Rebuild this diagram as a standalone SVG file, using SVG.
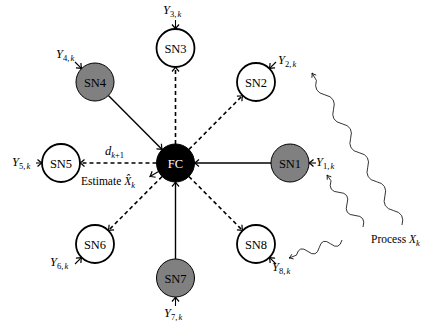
<svg xmlns="http://www.w3.org/2000/svg" width="433" height="327" viewBox="0 0 433 327">
<style>
.sn{stroke:#000;stroke-width:1.8;fill:#fff}
.sg{stroke:#000;stroke-width:1;fill:#808080}
.lb{font-family:"Liberation Serif","DejaVu Serif",serif;font-size:12.5px;text-anchor:middle;fill:#000}
.tx{font-family:"Liberation Serif","DejaVu Serif",serif;font-size:11.5px;fill:#000}
.ym{font-family:"Liberation Serif","DejaVu Serif",serif;font-size:12.5px;fill:#000}
.it{font-style:italic}
.sub{font-size:8.5px}
.solid{stroke:#000;stroke-width:1.4;fill:none;marker-end:url(#ah)}
.dash{stroke:#000;stroke-width:1.6;fill:none;stroke-dasharray:4 3;marker-end:url(#ah)}
.yin{stroke:#000;stroke-width:1.1;fill:none;marker-end:url(#ah)}
.wave{stroke:#000;stroke-width:0.8;fill:none;marker-end:url(#wh)}
</style>
<defs>
<marker id="ah" viewBox="-6 -5 7 10" markerWidth="7" markerHeight="10" refX="0" refY="0" orient="auto" markerUnits="userSpaceOnUse">
<path d="M-4.5,-3.5 Q-1.5,-0.8 0,0 Q-1.5,0.8 -4.5,3.5" fill="none" stroke="#000" stroke-width="1.2"/>
</marker>
<marker id="wh" viewBox="-6 -4 7 8" markerWidth="7" markerHeight="8" refX="0" refY="0" orient="auto" markerUnits="userSpaceOnUse">
<path d="M-4,-2.5 Q-1.5,-0.5 0,0 Q-1.5,0.5 -4,2.5" fill="none" stroke="#000" stroke-width="0.8"/>
</marker>
</defs>
<g id="connectors">
<line class="dash" x1="175.5" y1="144" x2="175.5" y2="67"/>
<line class="dash" x1="188.9" y1="149.5" x2="242.6" y2="95.5"/>
<line class="dash" x1="156.5" y1="163" x2="80" y2="163"/>
<line class="dash" x1="162.1" y1="176.5" x2="108.4" y2="230.5"/>
<line class="dash" x1="188.9" y1="176.5" x2="242.6" y2="230.5"/>
<line class="solid" x1="271" y1="163" x2="194.5" y2="163"/>
<line class="solid" x1="108.4" y1="95.5" x2="162.1" y2="149.5"/>
<line class="solid" x1="175.5" y1="259" x2="175.5" y2="182"/>
<line class="yin" x1="158.5" y1="171.5" x2="150" y2="176.5"/>
<line class="yin" x1="175.5" y1="20" x2="175.5" y2="29"/>
<line class="yin" x1="276" y1="62" x2="269.4" y2="68.6"/>
<line class="yin" x1="75" y1="62" x2="81.6" y2="68.6"/>
<line class="yin" x1="36" y1="163" x2="42" y2="163"/>
<line class="yin" x1="316" y1="163" x2="309" y2="163"/>
<line class="yin" x1="75" y1="264" x2="81.6" y2="257.4"/>
<line class="yin" x1="175.5" y1="306" x2="175.5" y2="297"/>
<line class="yin" x1="276" y1="264" x2="269.4" y2="257.4"/>
<path class="wave" d="M402,225 q3.47,-11.82 -8.56,-14.46 t-8.56,-14.46 t-8.56,-14.46 t-8.56,-14.46 t-8.56,-14.46 t-8.56,-14.46 t-8.56,-14.46 t-8.56,-14.46 t-8.56,-14.46 t-8.56,-14.46 L312,73"/>
<path class="wave" d="M363,227 q3.43,-10.92 -8,-11.55 t-8,-11.55 t-8,-11.55 t-8,-11.55 L327,175"/>
<path class="wave" d="M342,240 q-2.85,10.44 -11.39,3.8 t-11.39,3.8 t-11.39,3.8 t-11.39,3.8 L289,258"/>
</g>
<g id="FC"><circle cx="175.5" cy="163" r="19" fill="#000" stroke="#000"/><text class="lb" x="175.5" y="167.5" style="fill:#fff">FC</text></g>
<g id="SN1"><circle class="sg" cx="290" cy="163" r="19"/><text class="lb" x="290" y="167.5">SN1</text></g>
<g id="SN2"><circle class="sn" cx="256" cy="82" r="19"/><text class="lb" x="256" y="86.5">SN2</text></g>
<g id="SN3"><circle class="sn" cx="175.5" cy="48" r="19"/><text class="lb" x="175.5" y="52.5">SN3</text></g>
<g id="SN4"><circle class="sg" cx="95" cy="82" r="19"/><text class="lb" x="95" y="86.5">SN4</text></g>
<g id="SN5"><circle class="sn" cx="61" cy="163" r="19"/><text class="lb" x="61" y="167.5">SN5</text></g>
<g id="SN6"><circle class="sn" cx="95" cy="244" r="19"/><text class="lb" x="95" y="248.5">SN6</text></g>
<g id="SN7"><circle class="sg" cx="175.5" cy="278" r="19"/><text class="lb" x="175.5" y="282.5">SN7</text></g>
<g id="SN8"><circle class="sn" cx="256" cy="244" r="19"/><text class="lb" x="256" y="248.5">SN8</text></g>
<g id="labels">
<text class="ym" x="163" y="14"><tspan class="it">Y</tspan><tspan class="sub" dy="2.5">3,<tspan class="it" dx="1.2">k</tspan></tspan></text>
<text class="ym" x="278" y="64"><tspan class="it">Y</tspan><tspan class="sub" dy="2.5">2,<tspan class="it" dx="1.2">k</tspan></tspan></text>
<text class="ym" x="56" y="58"><tspan class="it">Y</tspan><tspan class="sub" dy="2.5">4,<tspan class="it" dx="1.2">k</tspan></tspan></text>
<text class="ym" x="12" y="166"><tspan class="it">Y</tspan><tspan class="sub" dy="2.5">5,<tspan class="it" dx="1.2">k</tspan></tspan></text>
<text class="ym" x="316" y="166"><tspan class="it">Y</tspan><tspan class="sub" dy="2.5">1,<tspan class="it" dx="1.2">k</tspan></tspan></text>
<text class="ym" x="50" y="266"><tspan class="it">Y</tspan><tspan class="sub" dy="2.5">6,<tspan class="it" dx="1.2">k</tspan></tspan></text>
<text class="ym" x="164" y="317"><tspan class="it">Y</tspan><tspan class="sub" dy="2.5">7,<tspan class="it" dx="1.2">k</tspan></tspan></text>
<text class="ym" x="272" y="271"><tspan class="it">Y</tspan><tspan class="sub" dy="2.5">8,<tspan class="it" dx="1.2">k</tspan></tspan></text>
<text class="ym" x="105" y="155"><tspan class="it">d</tspan><tspan class="sub" dy="2.5"><tspan class="it">k</tspan>+1</tspan></text>
<text class="tx" x="81" y="185">Estimate <tspan class="it">X̂</tspan><tspan class="sub it" dy="2.5">k</tspan></text>
<text class="tx" x="371" y="243">Process <tspan class="it">X</tspan><tspan class="sub it" dy="2.5">k</tspan></text>
</g>
</svg>
